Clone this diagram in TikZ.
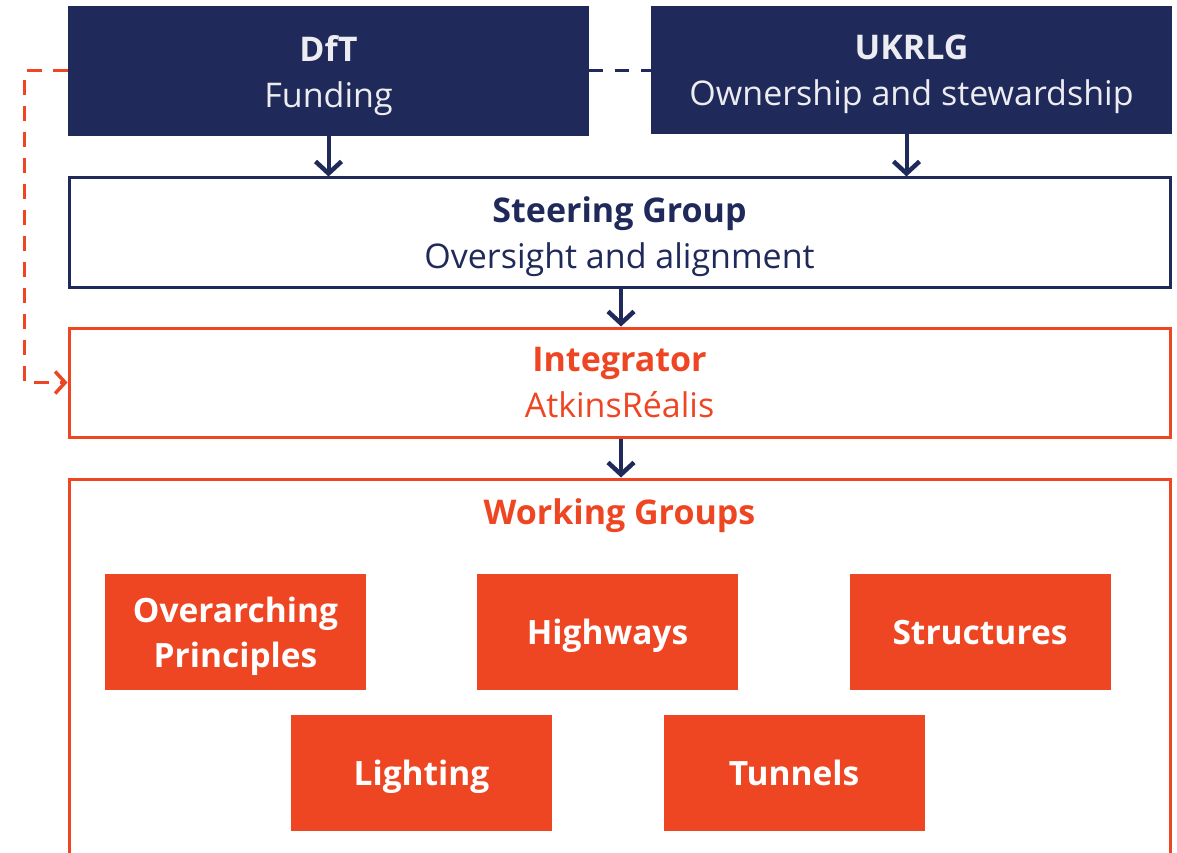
\documentclass[tikz,border=0pt]{standalone}
\usepackage{fontspec}
\setmainfont{Open Sans}
\usetikzlibrary{arrows.meta}
\definecolor{navy}{HTML}{1F2A5A}
\definecolor{flame}{HTML}{EE4623}
\definecolor{paleText}{HTML}{ECECF1}
\tikzset{
topbox/.style = {rectangle, fill=navy, text=paleText, align=center,
                 minimum width=521pt, minimum height=#1, inner sep=0pt},
topbox/.default = 130pt,
widebox/.style = {rectangle, draw=#1, line width=3pt, fill=white, text=#1,
                  align=center, minimum width=1101pt, minimum height=109pt, inner sep=0pt},
wgbox/.style = {rectangle, fill=flame, text=white, align=center,
                minimum width=261pt, minimum height=116pt, inner sep=0pt,
                font=\fontsize{33.5}{45}\selectfont\bfseries},
flow/.style = {draw=navy, line width=4pt, -{Straight Barb[length=12pt, width=26pt, line width=4.5pt]}}
}

\begin{document}
\begin{tikzpicture}[x=1pt, y=-1pt, font=\fontsize{34}{46}\selectfont, every node/.style={text depth=0pt}]
    \useasboundingbox (0,0) rectangle (1177,853);
    \clip (0,0) rectangle (1177,853);

    \node[topbox] (dft) at (328.5,71) {\textbf{DfT}\\Funding};
    \node[topbox=128pt] (ukrlg) at (911.5,70) {\textbf{UKRLG}\\Ownership and stewardship};
    \node[widebox=navy] (steer) at (619.5,232.5) {\textbf{Steering Group}\\Oversight and alignment};
    \node[widebox=flame] (integ) at (619.5,382.5) {\textbf{Integrator}\\AtkinsR\'ealis};
    \node[widebox=flame, minimum height=430pt] (working) at (619.5,694) {};
    \node[text=flame, font=\fontsize{34}{46}\selectfont\bfseries] (wgtitle) at (619.5,512) {Working Groups};

    \node[wgbox] (overarch) at (235.5,632) {Overarching\\Principles};
    \node[wgbox] (highways) at (607.5,632) {Highways};
    \node[wgbox] (structures) at (980,632) {Structures};
    \node[wgbox] (lighting) at (421.5,772.5) {Lighting};
    \node[wgbox] (tunnels) at (794,772.5) {Tunnels};

    \coordinate (ukout) at ([xshift=-5pt]ukrlg.south);
    \draw[flow] (dft.south) -- (steer.north -| dft.south);
    \draw[flow] (ukout) -- (steer.north -| ukout);
    \draw[flow] ([xshift=1.5pt]steer.south) -- ([xshift=1.5pt]integ.north);
    \draw[flow] ([xshift=1.5pt]integ.south) -- ([xshift=1.5pt]working.north);

    \draw[navy, line width=3pt, dash pattern=on 14pt off 12pt] (dft.east) -- (ukrlg.west |- dft.east);
    \draw[flame, line width=3pt, dash pattern=on 15pt off 11pt,
          -{Straight Barb[length=10pt, width=22pt, line width=3.5pt]}]
          (dft.west) -- ++(-43,0) |- (integ.west);
\end{tikzpicture}
\end{document}
